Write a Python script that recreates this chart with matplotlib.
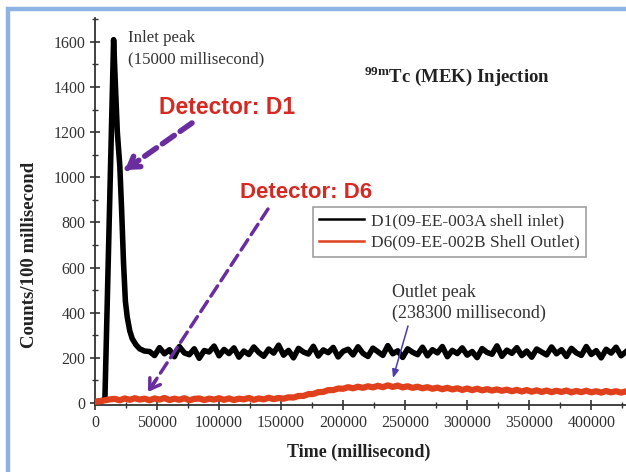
import numpy as np
import matplotlib.pyplot as plt
from matplotlib.patches import Rectangle
from matplotlib.ticker import MultipleLocator

plt.rcParams['font.family'] = ['Liberation Serif', 'DejaVu Serif']
plt.rcParams['mathtext.fontset'] = 'custom'
plt.rcParams['mathtext.rm'] = 'Liberation Serif'
plt.rcParams['mathtext.bf'] = 'Liberation Serif:bold'

# D1 (inlet) : rise, peak at 15000 ms, decay, then noisy plateau
t1_head = [0, 3000, 6000, 8000, 15000, 16500, 18000, 20000, 21500, 23000,
           24500, 26000, 28000, 30000, 33000, 36000, 40000]
d1_head = [5, 8, 10, 20, 1610, 1400, 1200, 1050, 850, 620,
           450, 380, 320, 285, 258, 240, 230]
t1_tail = np.arange(44000, 428001, 4000)
d1_tail = [228, 210, 245, 218, 236, 205, 250, 222, 214, 240, 198, 232, 226, 252, 209, 237, 219, 244, 203, 230,
           215, 248, 224, 207, 239, 221, 256, 212, 233, 200, 242, 226, 217, 251, 208, 235, 223, 246, 204, 229,
           238, 213, 249, 220, 206, 243, 227, 211, 254, 218, 231, 202, 240, 225, 214, 247, 209, 236, 222, 250,
           205, 233, 219, 244, 212, 228, 201, 241, 224, 216, 253, 207, 234, 220, 245, 210, 230, 203, 239, 226,
           213, 248, 218, 236, 206, 242, 222, 211, 250, 215, 232, 200, 238, 221, 247, 209, 227]
t1 = np.concatenate([t1_head, t1_tail])
d1 = np.concatenate([d1_head, d1_tail])

# D6 (outlet) : flat, slow rise, peak near 238300 ms, slow decline
t6 = np.arange(0, 428001, 4000)
d6 = [5, 8, 12, 16, 18, 12, 20, 14, 21, 15, 19, 12, 20, 15, 22, 13, 19, 14, 21, 12,
      18, 20, 13, 19, 15, 21, 14, 20, 13, 19, 16, 22, 14, 20, 16, 23, 17, 22, 19, 25,
      24, 31, 31, 39, 40, 48, 49, 57, 57, 64, 63, 70, 65, 72, 67, 74, 69, 76, 70, 78,
      71, 77, 69, 74, 67, 72, 65, 70, 63, 68, 61, 67, 60, 65, 58, 64, 57, 63, 56, 61,
      55, 60, 54, 59, 52, 58, 51, 57, 50, 56, 49, 55, 48, 54, 49, 55, 47, 53, 48, 54,
      47, 52, 46, 53, 47, 52, 46, 51]

W, H = 626, 472
fig = plt.figure(figsize=(W / 100, H / 100), dpi=100)
ax = fig.add_axes([95 / W, 1 - 405 / H, (W - 95) / W, (405 - 18) / H])

ax.plot(t1, d1, color='black', lw=4, label='D1(09-EE-003A shell inlet)', zorder=3)
ax.plot(t6, d6, color='#e0401c', lw=4.5, label='D6(09-EE-002B Shell Outlet)', zorder=4)

ax.set_xlim(0, 428000)
ax.set_ylim(-9, 1706)
ax.xaxis.set_major_locator(MultipleLocator(50000))
ax.xaxis.set_minor_locator(MultipleLocator(25000))
ax.yaxis.set_major_locator(MultipleLocator(200))
ax.yaxis.set_minor_locator(MultipleLocator(100))
ax.ticklabel_format(style='plain', useOffset=False)
ax.set_yticks(range(0, 1601, 200))
for s in ['top', 'right']:
    ax.spines[s].set_visible(False)
for s in ['left', 'bottom']:
    ax.spines[s].set_linewidth(1.3)
    ax.spines[s].set_color('#333333')
ax.tick_params(which='major', direction='inout', length=7, width=1.2, colors='#333333',
               labelsize=11.5, labelcolor='#333333')
ax.tick_params(which='minor', direction='inout', length=4, width=1.0, colors='#333333')

fig.text(30 / W, 1 - 255 / H, 'Counts/100 millisecond', rotation=90, ha='center', va='center',
         fontsize=13.5, fontweight='bold', color='#222222')
fig.text(359 / W, 1 - 452 / H, 'Time (millisecond)', ha='center', va='center',
         fontsize=13, fontweight='bold', color='#222222')

leg = ax.legend(loc='upper left', bbox_to_anchor=(313 / W, 1 - 207 / H), bbox_transform=fig.transFigure,
                fontsize=12.5, frameon=True, fancybox=False, edgecolor='#888888',
                handlelength=2.6, handletextpad=0.4, borderpad=0.35, labelspacing=0.3, borderaxespad=0)
leg.get_frame().set_linewidth(1.2)
for txt in leg.get_texts():
    txt.set_color('#333333')
for ln in leg.get_lines():
    ln.set_linewidth(1.8)

def px(x, y):
    return (x, H - y)

ax.annotate('Inlet peak\n(15000 millisecond)', xy=px(128, 30), xycoords='figure pixels',
            ha='left', va='top', fontsize=12.2, color='#333333', linespacing=1.45)
fig.text(364 / W, 1 - 76 / H, r'$^{\mathbf{99m}}$Tc (MEK) Injection', ha='left', va='center',
         fontsize=13.5, fontweight='bold', color='#222222')
ax.annotate('Outlet peak\n(238300 millisecond)', xy=px(392, 284), xycoords='figure pixels',
            ha='left', va='top', fontsize=13, color='#333333', linespacing=1.25)

red = '#d42a23'
fig.text(159 / W, 1 - 108 / H, 'Detector: D1', ha='left', va='center', fontsize=16.5,
         fontweight='bold', color=red, family='Liberation Sans')
fig.text(240 / W, 1 - 193 / H, 'Detector: D6', ha='left', va='center', fontsize=16,
         fontweight='bold', color=red, family='Liberation Sans')

purple = '#6a2da0'

def dashed_arrow(tail, tip, lw, dash):
    ax.annotate('', xy=px(*tip), xycoords='figure pixels', xytext=px(*tail), textcoords='figure pixels',
                arrowprops=dict(arrowstyle='-', lw=lw, color=purple, linestyle=(0, dash),
                                shrinkA=0, shrinkB=2))
    dx, dy = tip[0] - tail[0], tip[1] - tail[1]
    n = np.hypot(dx, dy)
    back = (tip[0] - dx / n * 14, tip[1] - dy / n * 14)
    ax.annotate('', xy=px(*tip), xycoords='figure pixels', xytext=px(*back), textcoords='figure pixels',
                arrowprops=dict(arrowstyle='->,head_length=0.7,head_width=0.45', lw=lw, color=purple,
                                shrinkA=0, shrinkB=0))

dashed_arrow((192, 123), (125, 170), 4, (2.6, 1.3))
dashed_arrow((268, 209), (148, 392), 2.5, (3.5, 1.8))

ax.annotate('', xy=px(393, 378), xycoords='figure pixels', xytext=px(408, 326), textcoords='figure pixels',
            arrowprops=dict(arrowstyle='-|>,head_length=0.5,head_width=0.2', lw=1.1, color='#4a3cb0',
                            shrinkA=0, shrinkB=0))

fig.patches.append(Rectangle((7.5 / W, -0.1), 1.2, 1.1 - 8.5 / H, transform=fig.transFigure,
                             fill=False, edgecolor='#8db3e2', lw=3.2))

fig.savefig('out.png', dpi=100)
